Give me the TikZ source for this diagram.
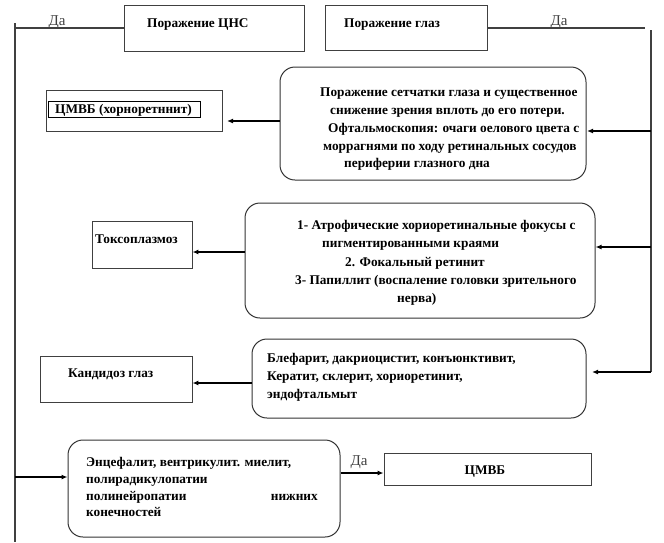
\documentclass[tikz,border=0pt]{standalone}
\usepackage{fontspec}
\setmainfont{Liberation Serif}
\usetikzlibrary{arrows.meta}
\begin{document}
\begin{tikzpicture}[x=1pt,y=-1pt,
  sqbox/.style={draw=black!75, line width=0.9pt, inner sep=0pt},
  rbox/.style={draw=black!80, line width=1pt, rounded corners=15pt, inner sep=0pt},
  txt/.style={font=\bfseries\fontsize{13.3}{15}\selectfont, anchor=base west, inner sep=0pt},
  ctxt/.style={font=\bfseries\fontsize{13.3}{15}\selectfont, anchor=base, inner sep=0pt},
  yes/.style={font=\fontsize{15}{16}\selectfont, text=black!75, inner sep=0pt},
  conn/.style={line width=1.3pt, -{Latex[length=6pt,width=5pt]}},
  trunk/.style={line width=1.2pt, draw=black!75}]
\useasboundingbox (0,0) rectangle (664,542);

% top boxes
\node[sqbox, minimum width=180, minimum height=46] (cns) at (214,28) {};
\node[sqbox, minimum width=162, minimum height=45] (eye) at (406,27.5) {};
\node[txt] (tcns) at (147,27) {Поражение ЦНС};
\node[txt] (teye) at (344,27) {Поражение глаз};

% trunks
\coordinate (lt) at (15,23);
\coordinate (lh) at (15,28);
\coordinate (lb) at (15,542);
\coordinate (rt) at (651,30);
\coordinate (rh) at (651,28);
\coordinate (rb) at (651,372);
\draw[trunk] (lh) -- (cns.west |- lh);
\draw[trunk] (eye.east |- rh) -- (645,28) coordinate (rhe);
\draw[trunk] (lt) -- (lb);
\draw[trunk] (rt) -- (rb);
\node[yes] (da1) at (57,22) {Да};
\node[yes] (da2) at (559,22) {Да};

% box 1
\node[rbox, minimum width=306, minimum height=113] (b1) at (433,123.5) {};
\node[txt] (b1a) at (320,96) {Поражение сетчатки глаза и существенное};
\node[txt] (b1b) at (330,114) {снижение зрения вплоть до его потери.};
\node[txt] (b1c) at (328,132) {Офтальмоскопия: очаги оелового цвета с};
\node[txt] (b1d) at (323,150) {моррагнями по ходу ретинальных сосудов};
\node[txt] (b1e) at (344,167) {периферии глазного дна};
\node[sqbox, minimum width=176, minimum height=41] (r1) at (134,110.5) {};
\node[draw=black, line width=0.8pt, minimum width=152, minimum height=16, inner sep=0pt] (r1i) at (124,109) {};
\node[txt] (r1t) at (55,113) {ЦМВБ (хорноретннит)};
\coordinate (a1) at (651,131);
\draw[conn] (a1) -- (587,131) coordinate (a1e);
\draw[conn] (b1.west |- 0,121) -- (227,121);

% box 2
\node[rbox, minimum width=350, minimum height=115] (b2) at (420,260.5) {};
\node[txt] (b2a) at (297,229) {1- Атрофические хориоретинальные фокусы с};
\node[txt] (b2b) at (322,247) {пигментированными краями};
\node[txt] (b2c) at (345,266) {2. Фокальный ретинит};
\node[txt] (b2d) at (295,284) {3- Папиллит (воспаление головки зрительного};
\node[txt] (b2e) at (397,302) {нерва)};
\node[sqbox, minimum width=100, minimum height=47] (r2) at (142,244.5) {};
\node[txt] (r2t) at (95,243) {Токсоплазмоз};
\coordinate (a2) at (651,247);
\draw[conn] (a2) -- (b2.east |- a2);
\draw[conn] (b2.west |- 0,252) -- (r2.east |- 0,252);

% box 3
\node[rbox, minimum width=334, minimum height=79] (b3) at (419,378.5) {};
\node[txt] (b3a) at (267,362) {Блефарит, дакриоцистит, конъюнктивит,};
\node[txt] (b3b) at (267,380) {Кератит, склерит, хориоретинит,};
\node[txt] (b3c) at (267,398) {эндофтальмыт};
\node[sqbox, minimum width=152, minimum height=46] (r3) at (116,379) {};
\node[txt] (r3t) at (68,377) {Кандидоз глаз};
\draw[conn] (rb) -- (592,372);
\draw[conn] (b3.west |- 0,383) -- (r3.east |- 0,383);

% box 4
\node[rbox, minimum width=272, minimum height=97] (b4) at (204,488.5) {};
\node[txt] (b4a) at (86,466) {Энцефалит, вентрикулит. миелит,};
\node[txt] (b4b) at (86,483) {полирадикулопатии};
\node[txt] (b4c) at (86,500) {полинейропатии};
\node[txt, anchor=base east] (b4d) at (318,500) {нижних};
\node[txt] (b4e) at (86,516) {конечностей};
\node[sqbox, minimum width=207, minimum height=32] (r4) at (487.5,469) {};
\node[ctxt] (r4t) at (485,474) {ЦМВБ};
\coordinate (a4) at (15,477);
\draw[conn] (a4) -- (b4.west |- a4);
\draw[conn] (b4.east |- 0,473) -- (r4.west |- 0,473);
\node[yes] (da3) at (359,462) {Да};
\end{tikzpicture}
\end{document}
